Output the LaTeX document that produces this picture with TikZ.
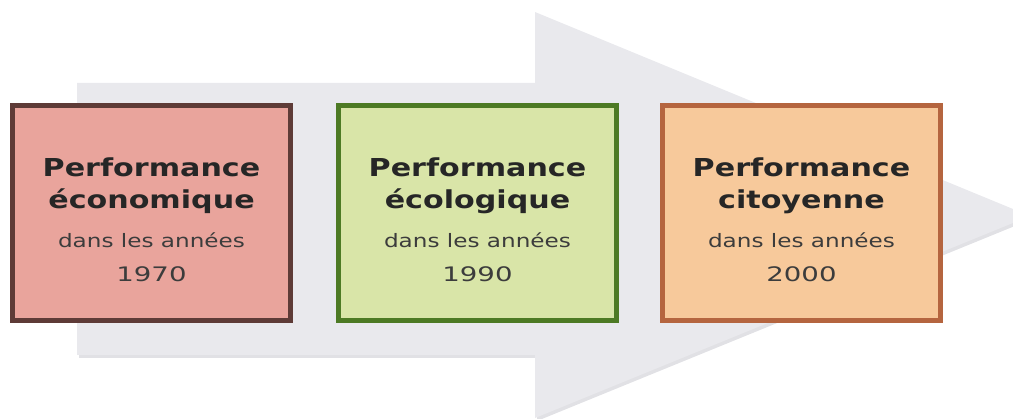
\documentclass[tikz,border=0pt]{standalone}
\usepackage{fontspec}
\newfontfamily\headfont[FakeStretch=1.22]{DejaVu Sans}
\newfontfamily\datefont[FakeStretch=1.25]{DejaVu Sans}
\newfontfamily\yearfont[FakeStretch=1.38]{DejaVu Sans}
\usetikzlibrary{positioning, calc}

\definecolor{arrowgray}{HTML}{E9E9ED}
\definecolor{arrowshade}{HTML}{CDCDD3}
\definecolor{boxpink}{HTML}{E9A49C}
\definecolor{borderbrown}{HTML}{5E3B37}
\definecolor{boxgreen}{HTML}{D9E5A8}
\definecolor{bordergreen}{HTML}{4D7A24}
\definecolor{boxorange}{HTML}{F7C99B}
\definecolor{borderorange}{HTML}{B5653F}
\definecolor{inkgray}{HTML}{262626}

\tikzset{
  yearbox/.style={draw, line width=5pt, minimum width=278pt, minimum height=215pt, inner sep=0pt},
  headline/.style={anchor=base, inner sep=0pt, text=inkgray, font=\headfont\bfseries\fontsize{24.7}{30}\selectfont},
  dateline/.style={anchor=base, inner sep=0pt, text=inkgray!90, font=\datefont\fontsize{18.5}{22}\selectfont},
  yearline/.style={dateline, font=\yearfont\fontsize{20}{24}\selectfont}
}

\begin{document}
\begin{tikzpicture}[x=1pt, y=-1pt]
    \useasboundingbox (0,0) rectangle (1013,419);

    % la grande flèche grise en fond (ombre légère puis flèche)
    \fill[arrowshade, opacity=0.6] (79,86) -- (537,86) -- (537,15) -- (1032,219) -- (537,421) -- (537,358) -- (79,358) -- cycle;
    \fill[arrowgray] (77,83) -- (535,83) -- (535,12) -- (1030,216) -- (535,418) -- (535,355) -- (77,355) -- cycle;

    % les trois cadres et leurs textes
    \foreach \i/\cx/\fillc/\linec/\second/\year in {%
        1/151.5/boxpink/borderbrown/économique/1970,
        2/477.5/boxgreen/bordergreen/écologique/1990,
        3/801.5/boxorange/borderorange/citoyenne/2000} {
      \node[yearbox, fill=\fillc, draw=\linec] (box\i) at (\cx,213) {};
      \node[headline] (head\i) at ([yshift=36pt]box\i.center) {Performance};
      \node[headline] (sub\i) at ([yshift=4pt]box\i.center) {\second};
      \node[dateline] (dans\i) at ([yshift=-34.5pt]box\i.center) {dans les années};
      \node[yearline] (year\i) at ([yshift=-69pt]box\i.center) {\year};
    }
\end{tikzpicture}
\end{document}
